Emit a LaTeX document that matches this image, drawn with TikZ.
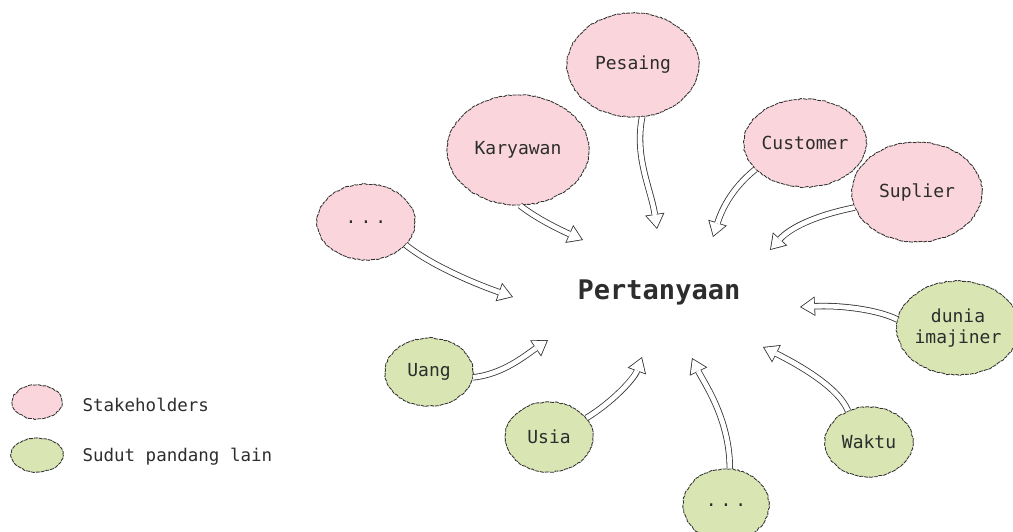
\documentclass[tikz,border=0pt]{standalone}
\usepackage{fontspec}
\setmonofont{DejaVu Sans Mono}
\usetikzlibrary{arrows.meta,shapes.geometric,decorations.pathmorphing}
\definecolor{pinkfill}{RGB}{250,214,220}
\definecolor{greenfill}{RGB}{217,230,180}
\definecolor{inkc}{RGB}{45,45,45}
\definecolor{edgec}{RGB}{50,50,50}
\tikzset{
  sketch/.style={decorate,decoration={random steps,segment length=2.4pt,amplitude=0.6pt}},
  bubble/.style={ellipse,draw=edgec,line width=0.85pt,dash pattern=on 4pt off 0.9pt,
                 sketch,inner sep=0pt,text=inkc,font=\ttfamily\fontsize{18}{21}\selectfont,align=center},
  stakebub/.style={bubble,fill=pinkfill},
  otherbub/.style={bubble,fill=greenfill},
  legendtxt/.style={anchor=west,text=inkc,font=\ttfamily\fontsize{17.5}{20}\selectfont},
  % hollow arrow: dark outer body, white inner body inset by the stroke width
  shaftout/.style={edgec,line width=6.4pt,-{Triangle[length=15pt,width=19.5pt,line width=0pt]}},
  shaftin/.style={white,line width=4.8pt,shorten >=1.5pt,-{Triangle[length=12.7pt,width=16.5pt,line width=0pt]}},
}
\newcommand\hollowarrow[1]{\draw[shaftout] #1; \draw[shaftin] #1;}
\newcommand\etc{.\hspace{4pt}.\hspace{4pt}.}
\begin{document}
\begin{tikzpicture}[x=1pt,y=-1pt]
\useasboundingbox (0,0) rectangle (1013,531);

% centre question
\node[text=inkc,font=\ttfamily\bfseries\fontsize{27}{31}\selectfont] (q) at (659,292) {Pertanyaan};

% stakeholders
\node[stakebub,minimum width=132,minimum height=104] (pes) at (633,65)  {Pesaing};
\node[stakebub,minimum width=142,minimum height=110] (kar) at (518,150) {Karyawan};
\node[stakebub,minimum width=120,minimum height=88]  (cus) at (805,143) {Customer};
\node[stakebub,minimum width=130,minimum height=100] (sup) at (917,192) {Suplier};
\node[stakebub,minimum width=98,minimum height=76]   (sdot) at (366,222) {\etc};

% other viewpoints
\node[otherbub,minimum width=88,minimum height=68]   (uan) at (429,372) {Uang};
\node[otherbub,minimum width=88,minimum height=70]   (usi) at (549,437) {Usia};
\node[otherbub,minimum width=86,minimum height=72]   (odot) at (726,505) {\etc};
\node[otherbub,minimum width=88,minimum height=70]   (wak) at (869,442) {Waktu};
\node[otherbub,minimum width=120,minimum height=94]  (dun) at (958,328) {dunia\\imajiner};

% arrow tips around the question
\coordinate (tA) at (513,297);
\coordinate (tB) at (583,240);
\coordinate (tC) at (657,229);
\coordinate (tD) at (713,237);
\coordinate (tE) at (770,250);
\coordinate (tF) at (800,307);
\coordinate (tG) at (763,347);
\coordinate (tH) at (692,358);
\coordinate (tI) at (642,357);
\coordinate (tJ) at (548,340);

\hollowarrow{(sdot.-30) .. controls +(25,20)  and +(-40,-14) .. (tA)}
\hollowarrow{(kar.-88)  .. controls +(15,12)  and +(-25,-11) .. (tB)}
\hollowarrow{(pes.-80)  .. controls +(-8,40)  and +(-6,-40)  .. (tC)}
\hollowarrow{(cus.208)  .. controls +(-25,20) and +(8,-25)   .. (tD)}
\hollowarrow{(sup.194)  .. controls +(-40,8)  and +(20,-22)  .. (tE)}
\hollowarrow{(dun.172)  .. controls +(-20,-10) and +(40,-2)  .. (tF)}
\hollowarrow{(wak.124)  .. controls +(-10,-25) and +(30,15)  .. (tG)}
\hollowarrow{(odot.84)  .. controls +(0,-50)  and +(12,25)   .. (tH)}
\hollowarrow{(usi.27)   .. controls +(25,-15) and +(-8,22)   .. (tI)}
\hollowarrow{(uan.-7)   .. controls +(30,-3)  and +(-22,15)  .. (tJ)}

% legend
\node[stakebub,minimum width=50,minimum height=34] (lgp) at (37,402) {};
\node[otherbub,minimum width=52,minimum height=34] (lgg) at (37,455) {};
\node[legendtxt] (lgpt) at (79,405) {Stakeholders};
\node[legendtxt] (lggt) at (79,457) {Sudut pandang lain};
\end{tikzpicture}
\end{document}
